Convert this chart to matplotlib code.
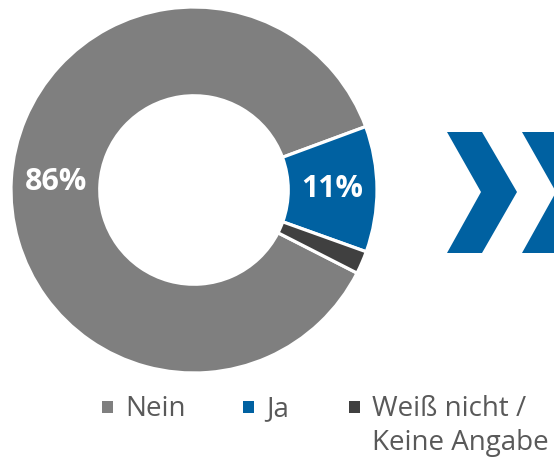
import matplotlib.pyplot as plt
from matplotlib.patches import Polygon, Rectangle
import numpy as np

labels = ['Nein', 'Ja', 'Weiß nicht /\nKeine Angabe']
values = [86, 11, 2]
colors = ['#7f7f7f', '#0061a1', '#404040']
legend_x = [102, 243, 349]

plt.rcParams['font.family'] = ['Open Sans', 'DejaVu Sans']

fig = plt.figure(figsize=(5.54, 4.62), dpi=100)
W, H = 554, 462

# Donut: centre (194,190) px, radius 183 px
ax = fig.add_axes([11 / W, (H - 373) / H, 366 / W, 366 / H])
wedges, _ = ax.pie(values, colors=colors, startangle=-27, counterclock=False,
                   radius=1, wedgeprops=dict(width=0.485, edgecolor='white', linewidth=2.3))
ax.set_xlim(-1, 1)
ax.set_ylim(-1, 1)
ax.set_aspect('equal')
ax.axis('off')

# Prozentwerte in den großen Segmenten
r_lab = 1 - 0.485 / 2
for w, v in zip(wedges, values):
    if v < 5:
        continue
    ang = np.deg2rad((w.theta1 + w.theta2) / 2)
    ax.text(r_lab * np.cos(ang), r_lab * np.sin(ang), '%d%%' % v,
            ha='center', va='center', color='white', fontsize=22, fontweight='bold')

# Overlay in Pixelkoordinaten für Pfeile und Legende
ov = fig.add_axes([0, 0, 1, 1])
ov.set_xlim(0, W)
ov.set_ylim(H, 0)
ov.axis('off')

# zwei Chevrons
for dx in [0, 75]:
    pts = [(447 + dx, 132), (482 + dx, 132), (517 + dx, 192),
           (482 + dx, 253), (447 + dx, 253), (481 + dx, 192)]
    ov.add_patch(Polygon(pts, closed=True, color=colors[1], lw=0))

# Legende
for x, lab, c in zip(legend_x, labels, colors):
    ov.add_patch(Rectangle((x, 401), 11, 12, color=c, lw=0))
    for i, line in enumerate(lab.split('\n')):
        ov.text(x + 23, 416 + i * 34, line, ha='left', va='baseline',
                fontsize=20, color='#595959')

plt.savefig('out.png', dpi=100)
